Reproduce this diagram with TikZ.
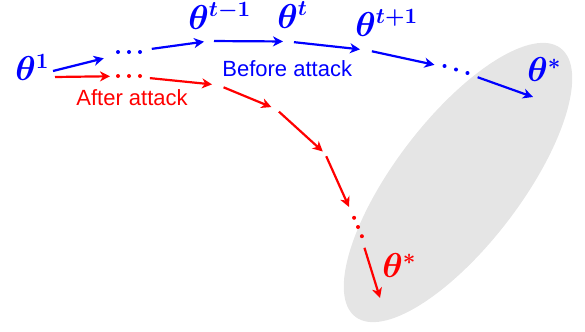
\documentclass[tikz,border=0pt]{standalone}
\usepackage{amsmath}
\usepackage{fontspec}
\newfontfamily\labelfont{Liberation Sans}
\usetikzlibrary{arrows.meta, calc}
\tikzset{param/.style={anchor=base west, inner sep=0pt, font=\fontsize{16}{19}\selectfont\boldmath},
  phase/.style={anchor=base west, inner sep=0pt, font=\labelfont\fontsize{11}{13}\selectfont},
  hop/.style={-{Stealth[length=5pt, width=5pt, inset=1.5pt]}, line width=1.1pt,
    shorten <=2.5pt, shorten >=2.5pt}}

\begin{document}
\begin{tikzpicture}[x=0.5pt, y=-0.5pt]
\useasboundingbox (0,0) rectangle (585,332);

% Region of optima
\fill[black!10, rotate around={52.6:(458,182.5)}] (458,182.5) ellipse [x radius=169, y radius=63];

% Parameter labels
\node[param, blue] (t1) at (15,81) {$\theta^{1}$};
\node[param, blue] (tm1) at (188,29) {$\theta^{t-1}$};
\node[param, blue] (tt) at (277,28) {$\theta^{t}$};
\node[param, blue] (tp1) at (355,36) {$\theta^{t+1}$};
\node[param, blue] (bstar) at (527,82) {$\theta^{*}$};
\node[param, red] (rstar) at (382,277) {$\theta^{*}$};
\node[phase, blue] (before) at (222,76) {Before attack};
\node[phase, red] (after) at (76,105) {After attack};

% Blue path (before attack)
\coordinate (b0) at (53,71);
\coordinate (bd1) at (129,52);
\coordinate (b1) at (209,41);
\coordinate (b2) at (288,41.5);
\coordinate (b3) at (366,50);
\coordinate (bd2) at (456,69.5);
\coordinate (b4) at (533,97);
\foreach \i in {-1,0,1} {
  \fill[blue] ($(bd1)+(\i*11,0)$) circle (2);
  \fill[blue] ($(bd2)+(17:{\i*12})$) circle (2);
}

\draw[hop, blue, shorten <=0pt, shorten >=13pt] (b0) -- (bd1);
\draw[hop, blue, shorten <=11.5pt] (bd1) -- (b1);
\draw[hop, blue] (b1) -- (b2);
\draw[hop, blue, shorten <=3pt, shorten >=3pt] (b2) -- (b3);
\draw[hop, blue, shorten <=3pt, shorten >=11pt] (b3) -- (bd2);
\draw[hop, blue, shorten <=11.5pt, shorten >=0pt] (bd2) -- (b4);

% Red path (after attack)
\coordinate (r0) at (55,77);
\coordinate (rd1) at (129,76);
\coordinate (r1) at (218,85);
\coordinate (r2) at (276,109);
\coordinate (r3) at (325,153.5);
\coordinate (rd2) at (358,227);
\coordinate (r4) at (380,298);
\foreach \i in {-1,0,1} {
  \fill[red] ($(rd1)+(\i*11,0)$) circle (2);
  \fill[red] ($(rd2)+(67:{\i*10})$) circle (2);
}

\draw[hop, red, shorten <=0pt, shorten >=9.5pt] (r0) -- (rd1);
\draw[hop, red, shorten <=10.5pt, shorten >=3pt] (rd1) -- (r1);
\draw[hop, red, shorten <=3pt] (r1) -- (r2);
\draw[hop, red, shorten <=2pt, shorten >=1.5pt] (r2) -- (r3);
\draw[hop, red, shorten <=1.5pt, shorten >=11pt] (r3) -- (rd2);
\draw[hop, red, shorten <=10.9pt, shorten >=0pt] (rd2) -- (r4);
\end{tikzpicture}
\end{document}
